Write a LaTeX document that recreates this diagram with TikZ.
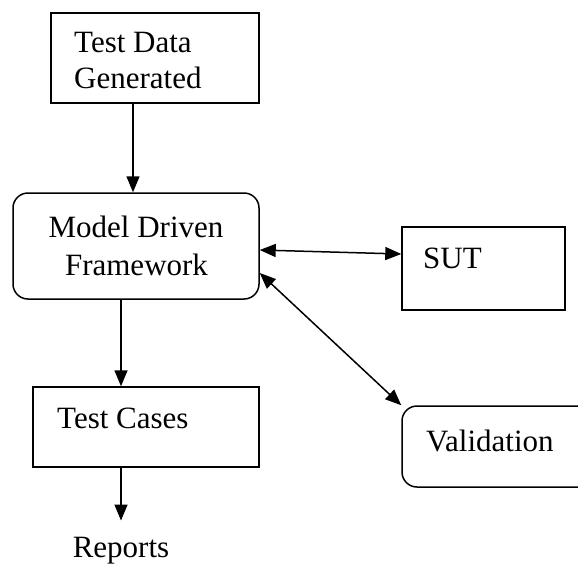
\documentclass[tikz,border=0pt]{standalone}
\usepackage{fontspec}
\setmainfont{Liberation Serif}
\usetikzlibrary{arrows.meta,calc}
\begin{document}
\begin{tikzpicture}[x=1pt,y=-1pt,
  box/.style={draw,line width=1.5pt,inner sep=0pt},
  rbox/.style={box,rounded corners=15pt},
  txt/.style={font=\fontsize{31}{37}\selectfont,inner sep=0pt},
  conn/.style={line width=1.5pt,-{Triangle[length=16pt,width=13pt]}},
  dconn/.style={line width=1.5pt,{Triangle[length=16pt,width=13pt]}-{Triangle[length=16pt,width=13pt]}}]
\useasboundingbox (0,0) rectangle (578,566);
\clip (0,0) rectangle (578,566);
% boxes
\node[box,minimum width=208pt,minimum height=90pt] (td) at (155,58) {};
\node[rbox,minimum width=246pt,minimum height=106pt] (mdf) at (136,246) {};
\node[box,minimum width=163pt,minimum height=83pt] (sut) at (483.5,268.5) {};
\node[box,minimum width=226pt,minimum height=80pt] (tc) at (146,427) {};
\node[rbox,minimum width=193pt,minimum height=81pt] (val) at (498.5,446.5) {};
% texts
\node[txt,anchor=base west] (td1) at (74,52) {Test Data};
\node[txt,anchor=base west] (td2) at (74,88) {Generated};
\node[txt,anchor=base] (mdf1) at (136,237) {Model Driven};
\node[txt,anchor=base] (mdf2) at (136.5,275) {Framework};
\node[txt,anchor=base west] (sutt) at (423,268) {SUT};
\node[txt,anchor=base west] (tct) at (57,428) {Test Cases};
\node[txt,anchor=base west] (valt) at (426,451) {Validation};
\node[txt,anchor=base,inner sep=10pt] (rp) at (121,557) {Reports};
% connectors
\draw[conn] (td.south -| mdf.north) ++(-3,0) coordinate (a1) -- (a1 |- mdf.north);
\draw[conn] (mdf.south -| rp.north) -- (tc.north -| rp.north);
\draw[conn,shorten >=6pt] (tc.south -| rp.north) -- (rp.north);
\draw[dconn] ($(mdf.east)+(0,4)$) -- ($(sut.west)+(0,-14.5)$);
\draw[dconn] ($(mdf.east)+(0,27)$) -- (val.north west);
\end{tikzpicture}
\end{document}
